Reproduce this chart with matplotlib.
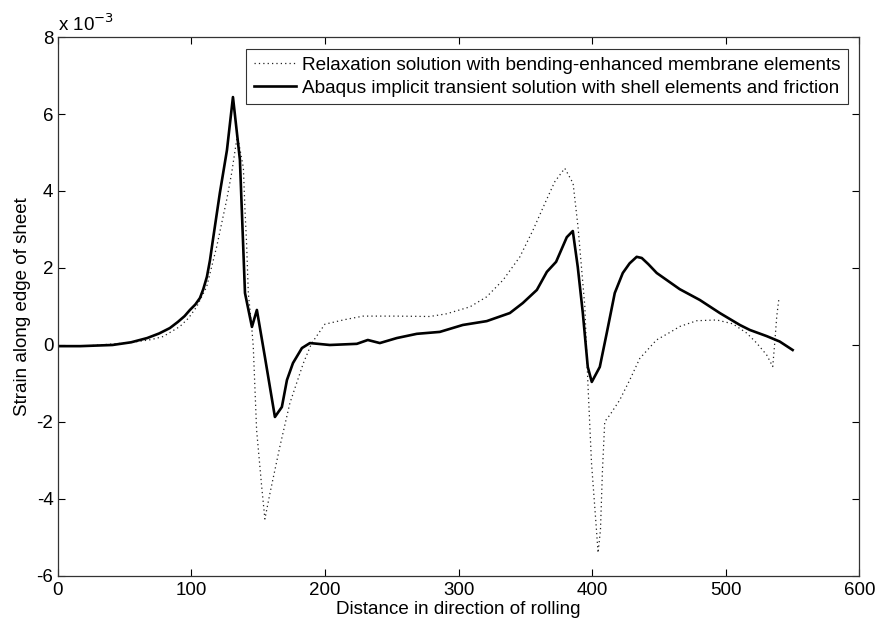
import matplotlib
matplotlib.use("Agg")
import matplotlib.pyplot as plt

# Abaqus implicit transient solution (solid), strain in units of 1e-3
abaqus_x = [0, 17, 41, 55, 67, 76, 84, 90, 95, 99, 103, 106.5, 109, 111.7, 114, 116.2, 121.4,
            126.7, 131.2, 136.4, 140.2, 145.4, 149.1, 155.1, 162.6, 167.8, 171.6, 176.1,
            182.8, 188.8, 203.7, 223.9, 232.1, 241.1, 253.8, 268.8, 286, 303.2, 321.1,
            338.4, 348.1, 358.6, 366.1, 373, 381, 385.5, 389.2, 393, 396.7, 399.7, 405.7,
            410.9, 416.9, 422.9, 428, 433.3, 437.1, 442, 448.3, 465.5, 480.5, 495.5, 510.5,
            518, 530.6, 540.3, 550]
abaqus_y = [-0.03, -0.03, 0.0, 0.07, 0.18, 0.3, 0.44, 0.6, 0.75, 0.91, 1.05, 1.22, 1.45, 1.77,
            2.2, 2.73, 3.95, 5.06, 6.44, 4.81, 1.35, 0.47, 0.91, -0.31, -1.87, -1.61, -0.91,
            -0.47, -0.08, 0.05, 0.0, 0.03, 0.13, 0.05, 0.18, 0.29, 0.34, 0.52, 0.62, 0.83,
            1.09, 1.43, 1.90, 2.16, 2.8, 2.96, 2.03, 0.83, -0.57, -0.96, -0.57, 0.31, 1.35,
            1.87, 2.12, 2.29, 2.26, 2.1, 1.87, 1.45, 1.17, 0.83, 0.52, 0.39, 0.23, 0.09,
            -0.13]

# Relaxation solution (dotted), strain in units of 1e-3
relax_x = [0, 20, 54, 70, 79, 91.5, 98, 104, 111.5, 119, 126.5, 130.2, 134.5, 139, 140.2,
           141.4, 142.7, 145.2, 146.4, 148.9, 152.7, 155.1, 158.9, 166.3, 173.8, 183.8, 190,
           200, 215, 228.6, 253.6, 278.5, 291, 308.5, 321, 333.4, 345.9, 355.8, 365.8, 372,
           379.5, 385.7, 389.4, 394.5, 396.8, 399.5, 403.2, 404.4, 406.2, 407.7, 409.4,
           413.2, 420.6, 428.1, 435.6, 448.1, 459.3, 465.5, 478.2, 493.2, 505.2, 515.6,
           523.1, 530.6, 535.1, 536.6, 538.1, 539.6]
relax_y = [-0.03, -0.03, 0.06, 0.14, 0.22, 0.48, 0.7, 0.99, 1.51, 2.55, 3.77, 4.46, 5.45, 4.6,
           3.5, 2.64, 1.34, 0.48, -0.04, -2.21, -3.68, -4.52, -3.85, -2.64, -1.51, -0.48,
           0.04, 0.54, 0.66, 0.75, 0.75, 0.74, 0.81, 0.99, 1.25, 1.69, 2.29, 2.99, 3.77,
           4.24, 4.59, 4.2, 3.07, 1.0, -1.0, -3.07, -4.8, -5.4, -4.8, -3.25, -1.99, -1.82,
           -1.43, -0.91, -0.35, 0.13, 0.35, 0.48, 0.63, 0.65, 0.55, 0.31, 0.05, -0.26,
           -0.56, 0.05, 0.74, 1.17]

x_ticks = [0, 100, 200, 300, 400, 500, 600]
y_ticks = [-6, -4, -2, 0, 2, 4, 6, 8]

plt.rcParams['font.family'] = ['Liberation Sans', 'DejaVu Sans']
FS = 13.5

fig = plt.figure(figsize=(8.77, 6.22), dpi=100)
ax = fig.add_axes([0.0657, 0.074, 0.9143, 0.8665])

ax.plot(relax_x, relax_y, color='#222222', linestyle=(0, (1, 2.5)), linewidth=0.9,
        label='Relaxation solution with bending-enhanced membrane elements')
ax.plot(abaqus_x, abaqus_y, color='black', linestyle='-', linewidth=1.9,
        label='Abaqus implicit transient solution with shell elements and friction')

ax.set_xlim(0, 600)
ax.set_ylim(-6, 8)
ax.set_xticks(x_ticks)
ax.set_yticks(y_ticks)
ax.set_xticklabels([str(v) for v in x_ticks])
ax.set_yticklabels([str(v) for v in y_ticks])
ax.tick_params(direction='in', top=True, right=True, length=5, width=0.8,
               labelsize=FS, colors='black')
ax.tick_params(axis='x', pad=4)
ax.tick_params(axis='y', pad=3)
for s in ax.spines.values():
    s.set_color('#333333')
    s.set_linewidth(0.9)

ax.set_xlabel('Distance in direction of rolling', fontsize=FS, labelpad=2)
ax.set_ylabel('Strain along edge of sheet', fontsize=FS, labelpad=4)
ax.text(0.0, 1.004, r'x 10$^{-3}$', transform=ax.transAxes, fontsize=FS,
        ha='left', va='bottom')

leg = ax.legend(loc='upper right', fontsize=13.7, frameon=True, fancybox=False,
                edgecolor='black', handlelength=2.2, handletextpad=0.3,
                borderpad=0.4, labelspacing=0.3, borderaxespad=0.62)
leg.get_frame().set_linewidth(0.8)

fig.savefig('out.png', dpi=100)
